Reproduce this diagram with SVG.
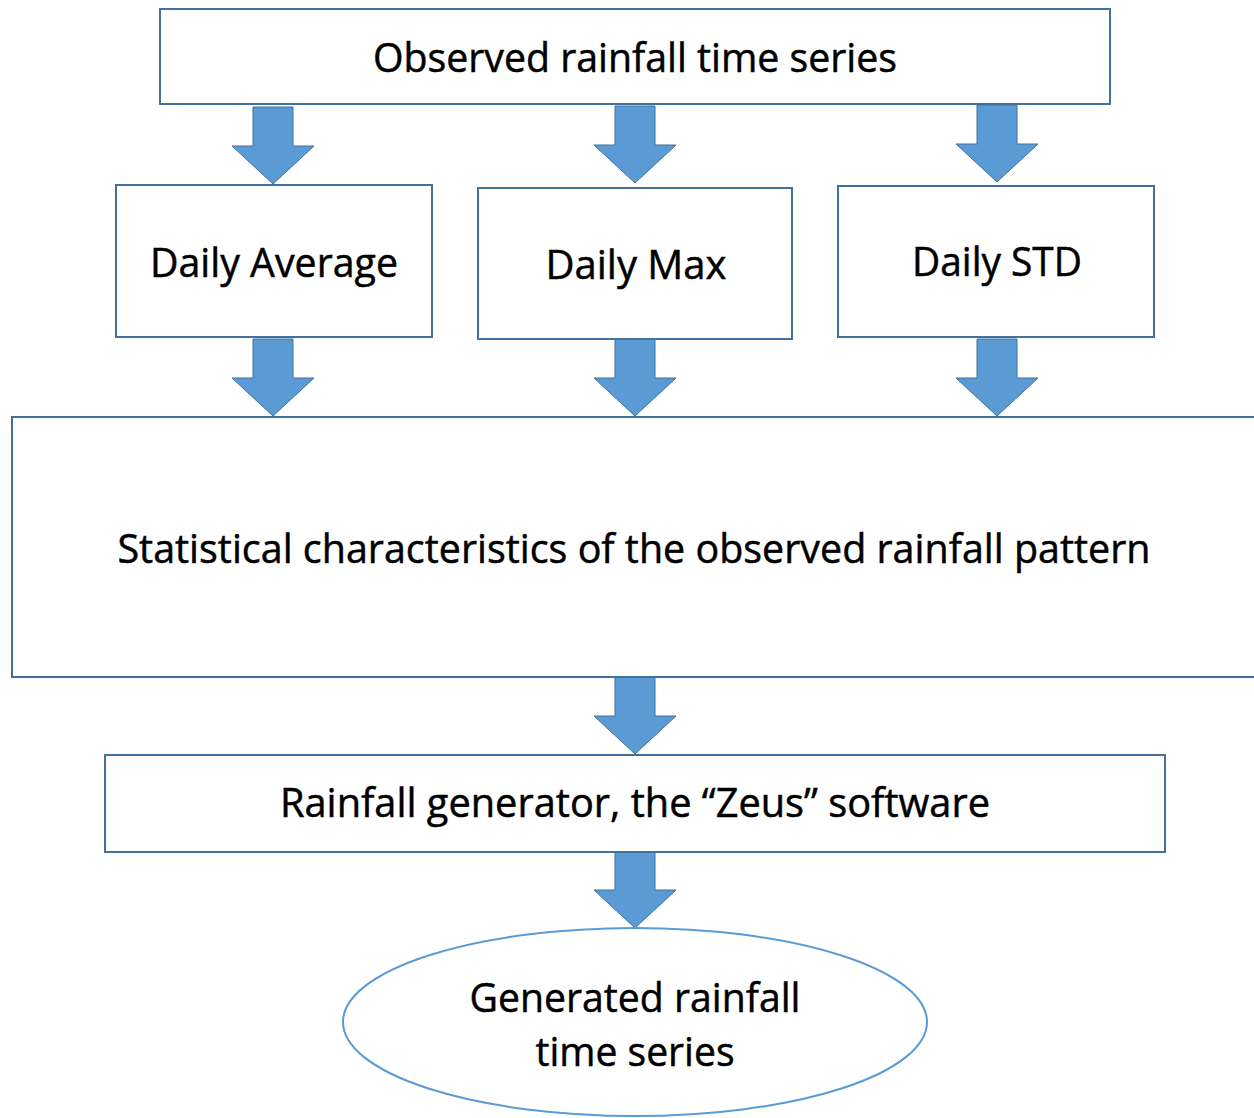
<svg xmlns="http://www.w3.org/2000/svg" width="1254" height="1118" viewBox="0 0 1254 1118">
  <defs>
    <style>
      .box { fill: #ffffff; stroke: #41719c; stroke-width: 2; }
      .arrow { fill: #5b9bd5; stroke: #41719c; stroke-width: 1; }
      .label { font-family: "Open Sans", "Noto Sans", sans-serif; font-size: 40px; fill: #000000; stroke: #000000; stroke-width: 0.5; text-anchor: middle; }
    </style>
    <!-- block arrow pointing down, tip at (0,0), 77 px tall -->
    <path id="down" d="M-20,-77 H20 V-38 H41 L0,0 L-41,-38 H-20 Z"/>
  </defs>
  <rect width="1254" height="1118" fill="#ffffff"/>

  <g id="connectors">
    <use href="#down" class="arrow" x="273" y="184"/>
    <use href="#down" class="arrow" x="635" y="183"/>
    <use href="#down" class="arrow" x="997" y="182"/>
    <use href="#down" class="arrow" x="273" y="416"/>
    <use href="#down" class="arrow" x="635" y="416"/>
    <use href="#down" class="arrow" x="997" y="416"/>
    <use href="#down" class="arrow" x="635" y="754"/>
    <use href="#down" class="arrow" x="635" y="928"/>
  </g>

  <g id="observed">
    <rect class="box" x="160" y="9" width="950" height="95"/>
    <text class="label" x="635" y="72" textLength="524" lengthAdjust="spacingAndGlyphs">Observed rainfall time series</text>
  </g>

  <g id="daily-average">
    <rect class="box" x="116" y="185" width="316" height="152"/>
    <text class="label" x="274" y="277" textLength="248" lengthAdjust="spacingAndGlyphs">Daily Average</text>
  </g>

  <g id="daily-max">
    <rect class="box" x="478" y="188" width="314" height="151"/>
    <text class="label" x="636" y="279" textLength="181" lengthAdjust="spacingAndGlyphs">Daily Max</text>
  </g>

  <g id="daily-std">
    <rect class="box" x="838" y="186" width="316" height="151"/>
    <text class="label" x="997" y="276" textLength="170" lengthAdjust="spacingAndGlyphs">Daily STD</text>
  </g>

  <g id="statistics">
    <rect class="box" x="12" y="417" width="1260" height="260"/>
    <text class="label" x="634" y="563" textLength="1033" lengthAdjust="spacingAndGlyphs">Statistical characteristics of the observed rainfall pattern</text>
  </g>

  <g id="generator">
    <rect class="box" x="105" y="755" width="1060" height="97"/>
    <text class="label" x="635" y="817" textLength="710" lengthAdjust="spacingAndGlyphs">Rainfall generator, the “Zeus” software</text>
  </g>

  <g id="generated">
    <ellipse cx="635" cy="1022" rx="292" ry="94" fill="#ffffff" stroke="#5b9bd5" stroke-width="2"/>
    <text class="label" x="635" y="1012" textLength="331" lengthAdjust="spacingAndGlyphs">Generated rainfall</text>
    <text class="label" x="635" y="1066" textLength="199" lengthAdjust="spacingAndGlyphs">time series</text>
  </g>
</svg>
